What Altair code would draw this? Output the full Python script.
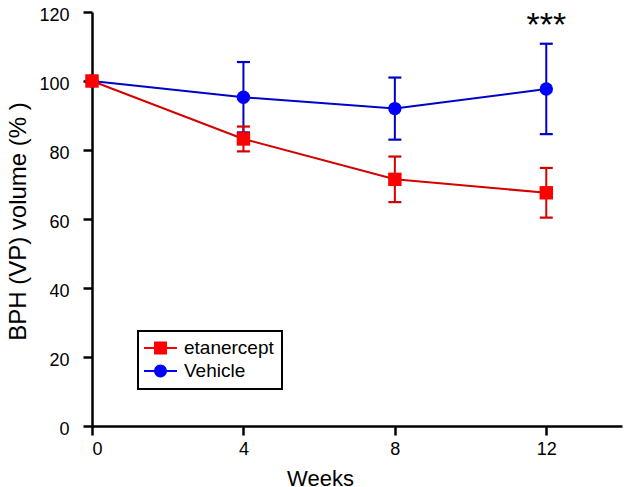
import altair as alt
import pandas as pd

weeks = [0, 4, 8, 12]
series_names = ["etanercept", "Vehicle"]
eta_mean = [100, 83.2, 71.5, 67.6]
eta_err = [0, 3.6, 6.6, 7.2]
veh_mean = [100, 95.3, 92.0, 97.7]
veh_err = [0, 10.2, 9.0, 13.1]
star_week = [12]
star_value = [116]
star_text = ["***"]

marker_colors = ["#ff0000", "#0000ff"]
line_colors = ["#d40000", "#0000c8"]

rows = []
for name, means, errs in [("Vehicle", veh_mean, veh_err), ("etanercept", eta_mean, eta_err)]:
    for w, m, e in zip(weeks, means, errs):
        rows.append({"week": w, "value": m, "err": e, "lo": m - e, "hi": m + e, "series": name})
df = pd.DataFrame(rows)
stars = pd.DataFrame({"week": star_week, "value": star_value, "text": star_text})

FONT = "Liberation Sans"

xscale = alt.Scale(domain=[0, 14], nice=False, zero=False)
yscale = alt.Scale(domain=[0, 120], nice=False)

x_axis = alt.Axis(values=weeks, title="Weeks", titleX=228, titleY=59, titleBaseline="alphabetic",
                  titleFontSize=22, titleFontWeight="normal", labelFontSize=18,
                  labelPadding=5, tickSize=9, grid=False)
y_axis = alt.Axis(values=[0, 20, 40, 60, 80, 100, 120], title="BPH (VP) volume (% )",
                  titleX=-67, titleY=209, titleBaseline="alphabetic", titleAngle=270,
                  titleFontSize=24, titleFontWeight="normal", labelFontSize=18,
                  labelPadding=14, labelOffset=3.5, tickSize=9, grid=False)

sq = "M-1.83,-0.11H1.83V0.11H-1.83Z M-0.72,-0.72H0.72V0.72H-0.72Z"
ci = "M-1.83,-0.11H1.83V0.11H-1.83Z M-0.72,0A0.72,0.72 0 1,1 0.72,0A0.72,0.72 0 1,1 -0.72,0Z"

# reversed domain order for the stroke/fill scales so their (disabled) legends
# are not merged with the visible colour/shape legend
rev_names = series_names[::-1]
stroke_enc = alt.Stroke("series:N", scale=alt.Scale(domain=rev_names, range=line_colors[::-1]), legend=None)
fill_enc = alt.Fill("series:N", scale=alt.Scale(domain=rev_names, range=marker_colors[::-1]), legend=None)

layers = []
for name in ["Vehicle", "etanercept"]:
    d = df[df["series"] == name]
    e = d[d["err"] > 0]
    shape = "circle" if name == "Vehicle" else "square"
    line = alt.Chart(d).mark_line(strokeWidth=2).encode(
        x=alt.X("week:Q", scale=xscale, axis=x_axis),
        y=alt.Y("value:Q", scale=yscale, axis=y_axis),
        stroke=stroke_enc)
    rule = alt.Chart(e).mark_rule(strokeWidth=2).encode(
        x="week:Q", y="lo:Q", y2="hi:Q", stroke=stroke_enc)
    cap_hi = alt.Chart(e).mark_point(shape="stroke", size=169, strokeWidth=2.2, filled=False, opacity=1).encode(
        x="week:Q", y="hi:Q", stroke=stroke_enc)
    cap_lo = alt.Chart(e).mark_point(shape="stroke", size=169, strokeWidth=2.2, filled=False, opacity=1).encode(
        x="week:Q", y="lo:Q", stroke=stroke_enc)
    pts = alt.Chart(d).mark_point(filled=True, opacity=1, size=180, shape=shape, strokeWidth=0).encode(
        x="week:Q", y="value:Q", fill=fill_enc)
    layers += [line, rule, cap_hi, cap_lo, pts]

# legend-only layer: no rows pass the filter, the legend comes from the explicit scale domains
legend_layer = alt.Chart(df).transform_filter("datum.week < 0").mark_point(
    filled=True, opacity=1, size=324).encode(
    x="week:Q", y="value:Q",
    color=alt.Color("series:N", scale=alt.Scale(domain=series_names, range=marker_colors),
                    title=None,
                    legend=alt.Legend(orient="none", legendX=46, legendY=319, padding=7.5,
                                      symbolSize=324, symbolOffset=5.5, symbolOpacity=1,
                                      labelOffset=14, labelFontSize=19, rowPadding=3,
                                      symbolStrokeWidth=0, strokeColor="black",
                                      labelFont=FONT, labelColor="black")),
    shape=alt.Shape("series:N", scale=alt.Scale(domain=series_names, range=[sq, ci]), title=None))

text_layer = alt.Chart(stars).mark_text(fontSize=34, font=FONT, baseline="middle",
                                        align="center", color="black").encode(
    x="week:Q", y="value:Q", text="text:N")

chart = alt.layer(*layers, legend_layer, text_layer).properties(
    width=530, height=414,
    autosize=alt.AutoSizeParams(type="none"),
    padding={"left": 84, "top": 4, "right": 4, "bottom": 62},
).configure_view(stroke=None).configure_axis(
    domainColor="black", domainWidth=2.5, tickColor="black", tickWidth=2.5,
    labelColor="black", titleColor="black", labelFont=FONT, titleFont=FONT,
).configure_legend(strokeWidth=2)

chart.save("out.html", embed_options={"renderer": "svg", "actions": False})
